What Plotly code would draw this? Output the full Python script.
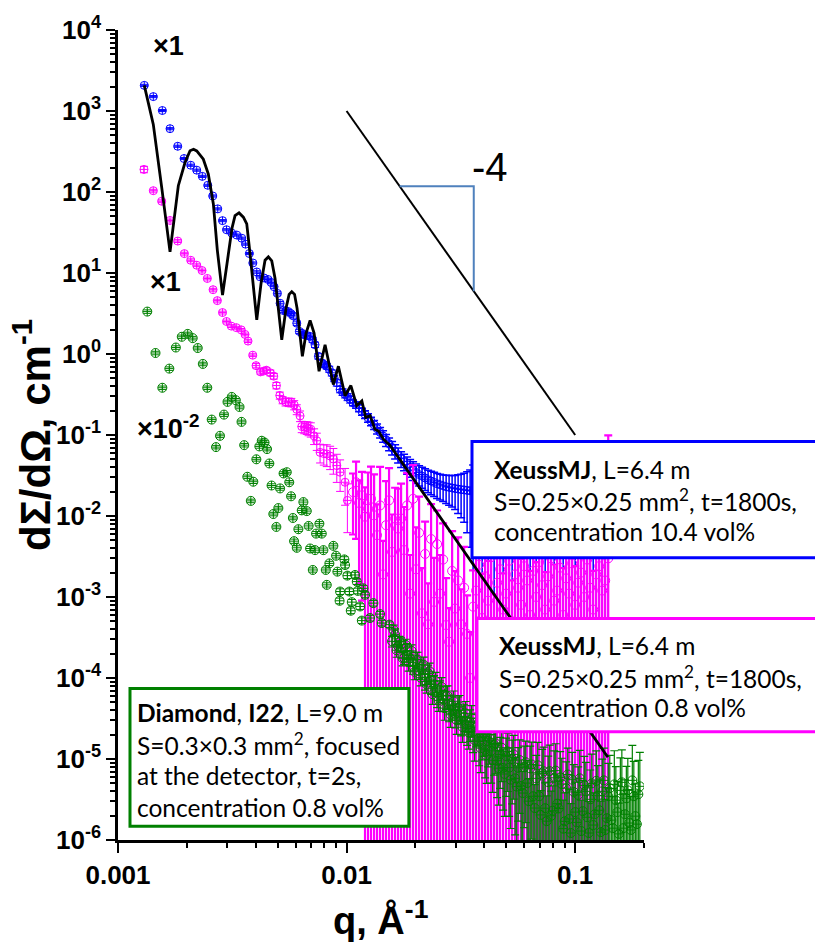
import math
import plotly.graph_objects as go

# ---------------- XeussMJ, 10.4 vol% (blue) ----------------
blue_q_lo = [0.001303, 0.001427, 0.001563, 0.001689, 0.001825, 0.001945, 0.002081, 0.002210, 0.002338, 0.002470,
             0.002597, 0.002731, 0.002866, 0.002984, 0.003145, 0.003307, 0.003477, 0.003614, 0.003755, 0.003890,
             0.004046, 0.004181, 0.004355, 0.004535, 0.004673, 0.004816, 0.004979, 0.005117, 0.005289, 0.005420,
             0.005563, 0.005710, 0.005850, 0.006054, 0.006214, 0.006380, 0.006516, 0.006720, 0.006924, 0.007100,
             0.007279, 0.007526, 0.007788, 0.007980, 0.008189, 0.008400, 0.008613, 0.008830, 0.009060, 0.009367,
             0.009600, 0.009849, 0.01010, 0.01036]
blue_I_lo = [2073, 1506, 1014, 605, 367, 259, 214, 186, 156, 121,
             89.3, 61.9, 44.3, 34.2, 31.1, 29.4, 26.9, 22.7, 17.4, 13.3,
             10.3, 8.98, 8.68, 8.32, 7.65, 6.77, 5.60, 4.23, 3.44, 3.40,
             3.34, 3.15, 2.95, 2.40, 1.90, 1.80, 1.725, 1.69, 1.649, 1.50,
             1.30, 0.937, 0.776, 0.740, 0.707, 0.650, 0.585, 0.500, 0.441, 0.365,
             0.340, 0.3167, 0.295, 0.275]
blue_relerr_lo = [0.03] * 20 + [0.035, 0.035, 0.04, 0.04, 0.04, 0.045, 0.045, 0.05, 0.05, 0.05,
                                0.055, 0.055, 0.06, 0.06, 0.06, 0.065, 0.065, 0.07, 0.07, 0.07,
                                0.075, 0.075, 0.08, 0.08, 0.08, 0.085, 0.085, 0.09, 0.09, 0.09,
                                0.095, 0.095, 0.1, 0.1]

# high-q detector grid shared by both XeussMJ samples
xeuss_q_hi = [0.01067, 0.01100, 0.01134, 0.01168, 0.01204, 0.01241, 0.01279, 0.01319, 0.01359, 0.01401,
              0.01444, 0.01488, 0.01534, 0.01581, 0.01630, 0.01680, 0.01731, 0.01784, 0.01839, 0.01896,
              0.01954, 0.02014, 0.02076, 0.02139, 0.02205, 0.02273, 0.02342, 0.02414, 0.02488, 0.02565,
              0.02644, 0.02725, 0.02808, 0.02895, 0.02983, 0.03075, 0.03169, 0.03267, 0.03367, 0.03470,
              0.03577, 0.03687, 0.03800, 0.03917, 0.04037, 0.04161, 0.04289, 0.04420, 0.04556, 0.04696,
              0.04840, 0.04989, 0.05142, 0.05300, 0.05462, 0.05630, 0.05803, 0.05981, 0.06165, 0.06354,
              0.06549, 0.06750, 0.06957, 0.07171, 0.07391, 0.07618, 0.07852, 0.08093, 0.08341, 0.08597,
              0.08861, 0.09133, 0.09414, 0.09703, 0.1000, 0.1031, 0.1062, 0.1095, 0.1129, 0.1163,
              0.1199, 0.1236, 0.1274, 0.1313, 0.1353, 0.1395]
blue_I_hi = [0.25, 0.235, 0.215, 0.195, 0.18, 0.163, 0.148, 0.134, 0.12, 0.108,
             0.097, 0.087, 0.078, 0.07, 0.063, 0.057, 0.051, 0.047, 0.043, 0.04,
             0.037, 0.0345, 0.0325, 0.031, 0.0295, 0.028, 0.027, 0.026, 0.025, 0.0243,
             0.0236, 0.023, 0.0226, 0.0222, 0.0218, 0.0215, 0.0212, 0.021, 0.0207, 0.0205,
             0.0203, 0.0198, 0.0206, 0.0201, 0.0195, 0.0204, 0.0199, 0.0193, 0.0202, 0.0197,
             0.0191, 0.0200, 0.0195, 0.0189, 0.0198, 0.0193, 0.0188, 0.0196, 0.0191, 0.0186,
             0.0194, 0.0189, 0.0184, 0.0192, 0.0187, 0.0182, 0.0190, 0.0185, 0.0180, 0.0188,
             0.0183, 0.0179, 0.0186, 0.0181, 0.0177, 0.0184, 0.0179, 0.0175, 0.0182, 0.0177,
             0.0173, 0.0180, 0.0175, 0.0171, 0.0178, 0.0174]
blue_relerr_hi = [0.08, 0.09, 0.1, 0.1, 0.11, 0.12, 0.12, 0.13, 0.14, 0.15,
                  0.16, 0.17, 0.18, 0.19, 0.2, 0.21, 0.22, 0.23, 0.24, 0.25,
                  0.26, 0.27, 0.28, 0.29, 0.3, 0.31, 0.32, 0.33, 0.34, 0.35,
                  0.36, 0.38, 0.4, 0.42, 0.45, 0.5, 0.55, 0.6, 0.7, 0.8,
                  1.1, 1.3, 1.2, 1.5, 1.4, 1.2, 1.6, 1.3, 1.5, 1.4,
                  1.7, 1.3, 1.5, 1.8, 1.4, 1.6, 1.9, 1.5, 1.7, 2.0,
                  1.6, 1.8, 2.1, 1.7, 1.9, 2.2, 1.8, 2.0, 2.3, 1.9,
                  2.1, 2.4, 2.0, 2.2, 2.5, 2.1, 2.3, 2.6, 2.2, 2.4,
                  2.7, 2.3, 2.5, 2.8, 2.4, 2.6]

# ---------------- XeussMJ, 0.8 vol% (magenta) ----------------
magenta_q_lo = [0.001299, 0.001427, 0.001553, 0.001689, 0.001825, 0.001951, 0.002081, 0.002210, 0.002331, 0.002459,
                0.002605, 0.002720, 0.002866, 0.002984, 0.003129, 0.003293, 0.003459, 0.003595, 0.003705, 0.003886,
                0.004017, 0.004203, 0.004330, 0.004457, 0.004639, 0.004801, 0.004934, 0.005101, 0.005250, 0.005408,
                0.005580, 0.005732, 0.005900, 0.006054, 0.006258, 0.006365, 0.006530, 0.006696, 0.006820, 0.006972,
                0.007208, 0.007406, 0.007656, 0.007950, 0.008189, 0.008470, 0.008752, 0.009060, 0.009367, 0.009849,
                0.01008]
magenta_I_lo = [190, 103.8, 76.9, 44.5, 24.8, 17.35, 14.36, 12.47, 10.73, 8.56,
                6.22, 4.56, 3.25, 2.52, 2.21, 2.115, 1.987, 1.744, 1.444, 0.967,
                0.718, 0.601, 0.615, 0.631, 0.585, 0.533, 0.408, 0.3078, 0.270, 0.2563,
                0.255, 0.2527, 0.235, 0.2073, 0.1720, 0.1272, 0.125, 0.1236, 0.121, 0.1178,
                0.0977, 0.0849, 0.0610, 0.0590, 0.0582, 0.0550, 0.0505, 0.0419, 0.0347, 0.0261,
                0.01558]
magenta_relerr_lo = [0.09] + [0.04] * 19 + [0.06, 0.06, 0.07, 0.07, 0.08, 0.08, 0.09, 0.1, 0.1, 0.11,
                                           0.12, 0.12, 0.13, 0.14, 0.15, 0.16, 0.17, 0.18, 0.19, 0.2,
                                           0.22, 0.24, 0.26, 0.28, 0.3, 0.32, 0.35, 0.38, 0.42, 0.48, 0.6]
magenta_I_hi = [0.0197, 0.0261, 0.0145, 0.0180, 0.0098, 0.0123, 0.0163, 0.0102, 0.0058, 0.0135,
                0.0019, 0.0077, 0.0156, 0.0036, 0.0093, 0.0070, 0.0093, 0.0038, 0.0135, 0.0011,
                0.0163, 0.0022, 0.0062, 0.00063, 0.0034, 0.00046, 0.0052, 0.00087, 0.0045, 0.0011,
                0.0029, 0.00045, 0.00028, 0.0021, 0.00072, 0.0016, 0.00046, 0.0013, 0.00035, 0.00010,
                0.00076, 0.0012, 0.0025, 0.00055, 0.0018, 0.0009, 0.0031, 0.0004, 0.0015, 0.0022,
                0.0007, 0.0011, 0.0028, 0.0005, 0.0019, 0.0013, 0.0008, 0.0024, 0.0016, 0.0006,
                0.0021, 0.0010, 0.0027, 0.0014, 0.0007, 0.0018, 0.0030, 0.0009, 0.0012, 0.0023,
                0.0006, 0.0017, 0.0011, 0.0026, 0.0008, 0.0015, 0.0020, 0.0010, 0.0029, 0.0013,
                0.0007, 0.0019, 0.0024, 0.0012, 0.0016, 0.0030]
magenta_relerr_hi = [0.7, 0.8, 0.9, 0.95,
                     1.3, 1.8, 1.5, 2.2, 1.4, 2.0, 1.6, 2.5, 1.5, 1.9,
                     1.4, 2.1, 1.7, 2.4, 1.5, 2.0, 1.6, 2.3, 1.8, 2.6,
                     1.5, 2.2, 1.7, 2.5, 1.6, 2.0, 1.8, 2.8, 1.6, 2.1,
                     1.9, 2.4, 1.7, 2.2, 2.0, 2.7, 1.8, 2.3, 1.6, 2.5,
                     1.9, 2.1, 2.6, 1.7, 2.4, 2.0, 1.8, 2.9, 1.6, 2.2,
                     2.3, 1.9, 2.7, 2.0, 1.8, 2.5, 2.1, 1.7, 2.4, 2.0,
                     1.9, 2.6, 2.2, 1.8, 2.3, 2.0, 2.8, 1.9, 2.1, 2.5,
                     2.0, 1.8, 2.4, 2.2, 1.9, 2.6, 2.0, 2.3, 1.8, 2.1,
                     2.4, 32]

# ---------------- Diamond I22, 0.8 vol%, x10^-2 (green) ----------------
diamond_q_lo = [0.001343, 0.001459, 0.001563, 0.001677, 0.001791, 0.001901, 0.002018, 0.002122, 0.002232, 0.002350,
                0.002458, 0.002570, 0.002684, 0.002794, 0.002909, 0.003013, 0.003145, 0.003276, 0.003401, 0.003470,
                0.003565, 0.003679, 0.003811, 0.003908, 0.004030, 0.004153, 0.004255, 0.004376, 0.004488, 0.004593,
                0.004696, 0.004781, 0.004929, 0.005029, 0.005117, 0.005300, 0.005474, 0.005613, 0.005716, 0.005821,
                0.005891, 0.006054, 0.006153, 0.006365, 0.006471, 0.006696, 0.006823, 0.006924, 0.007114, 0.007279,
                0.007353, 0.007603, 0.007788, 0.007916, 0.008110, 0.008189, 0.008408, 0.008752, 0.008995, 0.009113,
                0.009319, 0.009367, 0.009781, 0.009849, 0.01008, 0.01029, 0.01043, 0.01054, 0.01089, 0.01108,
                0.01119, 0.01146, 0.01166, 0.01184, 0.01205, 0.01267, 0.01310, 0.01402, 0.01426, 0.01539]
diamond_I_lo = [3.34, 1.029, 0.383, 0.660, 1.202, 1.631, 1.770, 1.571, 1.185, 0.754,
                0.383, 0.155, 0.0709, 0.0977, 0.1785, 0.2563, 0.2951, 0.2688, 0.2218, 0.1452,
                0.0749, 0.0305, 0.01537, 0.0265, 0.0501, 0.0723, 0.0849, 0.0809, 0.0670, 0.0445,
                0.0238, 0.01058, 0.00733, 0.01253, 0.0219, 0.0335, 0.0347, 0.0261, 0.0175, 0.00945,
                0.00489, 0.00405, 0.00687, 0.01174, 0.01485, 0.0115, 0.00754, 0.00397, 0.002157, 0.00379,
                0.00606, 0.00804, 0.00606, 0.00379, 0.002157, 0.001412, 0.0026, 0.00428, 0.00323, 0.002056,
                0.000898, 0.001168, 0.00291, 0.00248, 0.001836, 0.001168, 0.000677, 0.000864, 0.00187, 0.00155,
                0.00119, 0.000764, 0.000511, 0.00128, 0.001064, 0.00055, 0.00084, 0.000615, 0.000477, 0.000456]
diamond_relerr_lo = [0.05] * 40 + [0.06] * 20 + [0.08] * 20

# dense high-q part, two interleaved sets of detector bins
diamond_q_hi = [0.01581, 0.01630, 0.01680, 0.01731, 0.01785, 0.01839, 0.01896, 0.01954, 0.02014, 0.02076,
                0.02140, 0.02205, 0.02273, 0.02343, 0.02415, 0.02489, 0.02565, 0.02644, 0.02725, 0.02809,
                0.02895, 0.02984, 0.03076, 0.03170, 0.03267, 0.03368, 0.03471, 0.03578, 0.03688, 0.03801,
                0.03918, 0.04038, 0.04162, 0.04290, 0.04421, 0.04557, 0.04697, 0.04841, 0.04990, 0.05143,
                0.05301, 0.05464, 0.05632, 0.05805, 0.05983, 0.06167, 0.06356, 0.06551, 0.06753, 0.06960,
                0.07174, 0.07394, 0.07621, 0.07855, 0.08096, 0.08345, 0.08601, 0.08865, 0.09137, 0.09418,
                0.09707, 0.1001, 0.1031, 0.1063, 0.1096, 0.1129, 0.1164, 0.1200, 0.1237, 0.1275,
                0.1314, 0.1354, 0.1396, 0.1439, 0.1483, 0.1529, 0.1576, 0.1624, 0.1674, 0.1725,
                0.1778, 0.1833, 0.1889]
diamond_I_hi = [2.84e-4, 3.43e-4, 2.48e-4, 2.60e-4, 1.77e-4, 2.18e-4, 1.76e-4, 1.39e-4, 1.68e-4, 1.22e-4,
                1.27e-4, 9.06e-5, 1.14e-4, 8.35e-5, 8.39e-5, 5.90e-5, 7.08e-5, 5.42e-5, 6.00e-5, 4.12e-5,
                4.57e-5, 3.61e-5, 4.29e-5, 2.97e-5, 3.32e-5, 2.37e-5, 2.84e-5, 2.18e-5, 2.48e-5, 1.65e-5,
                1.88e-5, 1.30e-5, 1.67e-5, 1.26e-5, 1.50e-5, 9.53e-6, 1.14e-5, 7.78e-6, 1.08e-5, 7.82e-6,
                9.97e-6, 5.77e-6, 7.78e-6, 4.64e-6, 7.91e-6, 5.04e-6, 7.67e-6, 3.47e-6, 5.77e-6, 3.47e-6,
                6.64e-6, 2.47e-6, 5.18e-6, 1.99e-6, 5.86e-6, 2.81e-6, 5.93e-6, 1.38e-6, 4.35e-6, 1.82e-6,
                5.55e-6, 2.21e-6, 3.60e-6, 1.29e-6, 4.73e-6, 1.91e-6, 3.18e-6, 1.53e-6, 5.37e-6, 2.33e-6,
                3.99e-6, 1.33e-6, 3.47e-6, 1.76e-6, 4.86e-6, 2.21e-6, 4.10e-6, 1.40e-6, 3.27e-6, 1.62e-6,
                5.45e-6, 1.97e-6, 3.67e-6]
diamond_q_hi2 = [0.01605, 0.01655, 0.01706, 0.01757, 0.01812, 0.01867, 0.01925, 0.01984, 0.02045, 0.02108,
                 0.02173, 0.02239, 0.02308, 0.02379, 0.02452, 0.02527, 0.02604, 0.02684, 0.02766, 0.02852,
                 0.02939, 0.03029, 0.03123, 0.03218, 0.03317, 0.03419, 0.03524, 0.03632, 0.03744, 0.03859,
                 0.03978, 0.04099, 0.04225, 0.04355, 0.04488, 0.04626, 0.04768, 0.04915, 0.05066, 0.05221,
                 0.05382, 0.05547, 0.05718, 0.05893, 0.06074, 0.06261, 0.06453, 0.06651, 0.06856, 0.07066,
                 0.07283, 0.07506, 0.07737, 0.07974, 0.08219, 0.08472, 0.08732, 0.09000, 0.09276, 0.09561,
                 0.09855, 0.1016, 0.1047, 0.1079, 0.1113, 0.1146, 0.1182, 0.1218, 0.1256, 0.1294,
                 0.1334, 0.1375, 0.1417, 0.1461, 0.1506, 0.1552, 0.1600, 0.1649, 0.1699, 0.1751,
                 0.1805, 0.1861, 0.1918]
diamond_I_hi2 = [3.92e-4, 2.20e-4, 2.81e-4, 1.76e-4, 2.57e-4, 1.56e-4, 2.16e-4, 1.19e-4, 1.69e-4, 1.01e-4,
                 1.46e-4, 8.32e-5, 1.21e-4, 6.31e-5, 9.18e-5, 5.30e-5, 7.76e-5, 4.24e-5, 6.05e-5, 3.52e-5,
                 5.16e-5, 3.01e-5, 4.47e-5, 2.47e-5, 3.66e-5, 2.13e-5, 3.21e-5, 1.71e-5, 2.57e-5, 1.36e-5,
                 2.07e-5, 1.11e-5, 1.80e-5, 9.66e-6, 1.56e-5, 7.71e-6, 1.38e-5, 6.53e-6, 1.24e-5, 5.55e-6,
                 1.14e-5, 4.57e-6, 9.70e-6, 3.80e-6, 9.12e-6, 3.02e-6, 8.57e-6, 2.48e-6, 8.37e-6, 2.04e-6,
                 7.06e-6, 1.71e-6, 7.08e-6, 2.30e-6, 7.18e-6, 2.45e-6, 4.91e-6, 1.70e-6, 6.44e-6, 1.22e-6,
                 3.92e-6, 1.65e-6, 5.77e-6, 2.27e-6, 3.99e-6, 1.22e-6, 5.00e-6, 2.08e-6, 3.52e-6, 1.25e-6,
                 5.45e-6, 1.86e-6, 4.35e-6, 1.40e-6, 3.10e-6, 1.19e-6, 5.15e-6, 2.08e-6, 4.10e-6, 1.33e-6,
                 3.47e-6, 1.57e-6, 4.60e-6]
diamond_relerr_hi = [0.15, 0.18, 0.16, 0.2, 0.17, 0.22, 0.19, 0.2, 0.23, 0.21,
                     0.24, 0.22, 0.26, 0.25, 0.28, 0.27, 0.3, 0.29, 0.32, 0.3,
                     0.34, 0.33, 0.36, 0.35, 0.4, 0.38, 0.42, 0.45, 0.43, 0.5,
                     0.48, 0.55, 0.52, 0.6, 0.58, 0.65, 0.62, 0.7, 0.68, 0.75,
                     0.72, 0.8, 0.78, 0.85, 0.82, 0.9, 0.88, 0.95, 0.92, 1.0,
                     0.98, 1.05, 1.1, 1.02, 1.15, 1.2, 1.08, 1.25, 1.12, 1.3,
                     1.18, 1.35, 1.22, 1.4, 1.28, 1.45, 1.3, 1.5, 1.35, 1.42,
                     1.5, 1.38, 1.55, 1.45, 1.6, 1.4, 1.52, 1.65, 1.48, 1.58,
                     1.7, 1.5, 1.62]

# ---------------- model curve for the 10.4 vol% sample ----------------
model_q = [0.001303, 0.001427, 0.001553, 0.001689, 0.001836, 0.001964, 0.002066, 0.002140, 0.002210, 0.002362,
           0.002484, 0.002613, 0.002720, 0.002866, 0.002999, 0.003154, 0.003251, 0.003384, 0.003535, 0.003658,
           0.003781, 0.004046, 0.004224, 0.004398, 0.004548, 0.004706, 0.004865, 0.005204, 0.005434, 0.005604,
           0.005756, 0.005921, 0.006072, 0.006406, 0.006650, 0.006924, 0.007208, 0.007579, 0.008051, 0.008752,
           0.009207, 0.009849, 0.01044, 0.01108, 0.01166, 0.01213, 0.01267, 0.01332, 0.01378, 0.01449,
           0.01549, 0.0509, 0.139]
model_I = [2073, 683, 114.2, 18.2, 119.5, 231, 323, 337, 321, 254,
           166, 71.3, 19.05, 5.34, 13.1, 36.0, 51.2, 55.2, 48.9, 40.5,
           17.35, 2.64, 7.43, 14.36, 15.8, 14.11, 8.56, 1.498, 3.67, 5.45,
           5.88, 5.45, 3.67, 0.937, 1.81, 2.59, 1.81, 0.613, 1.30, 0.420,
           0.7066, 0.3053, 0.408, 0.230, 0.263, 0.164, 0.1735, 0.1168, 0.1126, 0.0888,
           0.0743, 6.1e-4, 1.05e-5]

# q^-4 guide line and its slope triangle
porod_q = [0.01, 0.1]
porod_I = [1000, 0.1]
triangle_q = [0.01706, 0.036, 0.036]
triangle_I = [118, 118, 5.95]

# ---------------- axis ticks ----------------
x_tick_vals = [0.001, 0.01, 0.1]
x_tick_text = ["0.001", "0.01", "0.1"]
y_tick_vals = [1e-6, 1e-5, 1e-4, 1e-3, 1e-2, 1e-1, 1e0, 1e1, 1e2, 1e3, 1e4]
y_tick_text = ["10<sup>-6</sup>", "10<sup>-5</sup>", "10<sup>-4</sup>", "10<sup>-3</sup>", "10<sup>-2</sup>",
               "10<sup>-1</sup>", "10<sup>0</sup>", "10<sup>1</sup>", "10<sup>2</sup>", "10<sup>3</sup>",
               "10<sup>4</sup>"]
x_minor = [k * 10.0 ** e for e in (-3, -2, -1) for k in range(2, 10) if k * 10.0 ** e <= 0.2001]
y_minor = [k * 10.0 ** e for e in range(-6, 4) for k in range(2, 10)]

BLUE = "#0000FF"
MAGENTA = "#FF00FF"
GREEN = "#008000"
TRI_BLUE = "#4F81BD"
TICK_FONT = dict(family="Liberation Sans", size=26, color="black", weight="bold")
BOX_FONT = dict(family="Lato", size=24.5, color="black")

fig = go.Figure()


def add_points(q, intensity, relerr, color, symbol, size, bar_width=1.0):
    fig.add_trace(go.Scatter(
        x=q, y=intensity, mode="markers",
        marker=dict(symbol=symbol, size=size, color=color, line=dict(color=color, width=1)),
        error_y=dict(type="data", array=[v * r for v, r in zip(intensity, relerr)],
                     color=color, thickness=bar_width, width=4),
        showlegend=False, hoverinfo="skip"))


add_points(blue_q_lo, blue_I_lo, blue_relerr_lo, BLUE, "circle-cross-open", 8)
add_points(xeuss_q_hi, blue_I_hi, blue_relerr_hi, BLUE, "circle-cross-open", 8, 1.5)
add_points(magenta_q_lo, magenta_I_lo, magenta_relerr_lo, MAGENTA, "circle-cross-open", 8)
add_points(xeuss_q_hi, magenta_I_hi, magenta_relerr_hi, MAGENTA, "circle-open", 9, 2.2)
add_points(diamond_q_lo, diamond_I_lo, diamond_relerr_lo, GREEN, "circle-cross-open", 9)
add_points(diamond_q_hi, diamond_I_hi, diamond_relerr_hi, GREEN, "circle-cross-open", 9, 1.2)
add_points(diamond_q_hi2, diamond_I_hi2, diamond_relerr_hi, GREEN, "circle-cross-open", 9, 1.2)

fig.add_trace(go.Scatter(x=model_q, y=model_I, mode="lines",
                         line=dict(color="black", width=2.8), showlegend=False, hoverinfo="skip"))
fig.add_trace(go.Scatter(x=porod_q, y=porod_I, mode="lines",
                         line=dict(color="black", width=2), showlegend=False, hoverinfo="skip"))
fig.add_trace(go.Scatter(x=triangle_q, y=triangle_I, mode="lines",
                         line=dict(color=TRI_BLUE, width=2), showlegend=False, hoverinfo="skip"))

# framed sample descriptions (paper coordinates, running past the right edge)
boxes = [
    (0.673, 1.4, 0.3485, 0.4920, BLUE),
    (0.6825, 1.4, 0.1337, 0.2736, MAGENTA),
    (0.0228, 0.5530, 0.0170, 0.1870, GREEN),
]
for x0, x1, y0, y1, color in boxes:
    fig.add_shape(type="rect", xref="paper", yref="paper", x0=x0, x1=x1, y0=y0, y1=y1,
                  line=dict(color=color, width=3), fillcolor="white", layer="above")

box_lines = [
    (0.7110, 0.4577, "<b>XeussMJ</b>, L=6.4 m"),
    (0.7110, 0.4196, "S=0.25×0.25 mm<sup>2</sup>, t=1800s,"),
    (0.7110, 0.3804, "concentration 10.4 vol%"),
    (0.7205, 0.2405, "<b>XeussMJ</b>, L=6.4 m"),
    (0.7205, 0.2012, "S=0.25×0.25 mm<sup>2</sup>, t=1800s,"),
    (0.7205, 0.1632, "concentration 0.8 vol%"),
    (0.0323, 0.1571, "<b>Diamond</b>, <b>I22</b>, L=9.0 m"),
    (0.0323, 0.1190, "S=0.3×0.3 mm<sup>2</sup>, focused"),
    (0.0323, 0.0798, "at the detector, t=2s,"),
    (0.0323, 0.0405, "concentration 0.8 vol%"),
]
for x, y, text in box_lines:
    fig.add_annotation(x=x, y=y, xref="paper", yref="paper", text=text, showarrow=False,
                       xanchor="left", yanchor="middle", align="left", font=BOX_FONT)

# scale factors of the curves and the slope label
labels = [
    (0.0951, 0.9804, "×1", 27, "bold"),
    (0.0894, 0.6883, "×1", 27, "bold"),
    (0.0951, 0.5104, "×10<sup>-2</sup>", 27, "bold"),
    (0.7072, 0.8307, "-4", 40, "normal"),
]
for x, y, text, size, weight in labels:
    fig.add_annotation(x=x, y=y, xref="paper", yref="paper", text=text, showarrow=False,
                       xanchor="center", yanchor="middle",
                       font=dict(family="Liberation Sans", size=size, color="black", weight=weight))

# axis titles
fig.add_annotation(x=-0.1635, y=0.5, xref="paper", yref="paper", text="dΣ/dΩ, cm<sup>-1</sup>",
                   textangle=-90, showarrow=False, xanchor="center", yanchor="middle",
                   font=dict(family="Liberation Sans", size=42, color="black", weight="bold"))
fig.add_annotation(x=0.5, y=-0.0957, xref="paper", yref="paper", text="q, Å<sup>-1</sup>",
                   showarrow=False, xanchor="center", yanchor="middle",
                   font=dict(family="Liberation Sans", size=38, color="black", weight="bold"))

axis_common = dict(
    showline=True, linecolor="black", linewidth=2.5, mirror=False,
    ticks="outside", tickwidth=2, tickcolor="black", tickmode="array",
    tickfont=TICK_FONT, showgrid=False, zeroline=False,
)
fig.update_layout(
    width=815, height=942, autosize=False,
    margin=dict(l=118, r=171, t=25, b=102, pad=0),
    paper_bgcolor="white", plot_bgcolor="white",
    xaxis=dict(type="log", range=[-3, math.log10(0.2)], ticklen=10,
               tickvals=x_tick_vals, ticktext=x_tick_text,
               minor=dict(ticks="outside", ticklen=5, tickwidth=1.5, tickcolor="black",
                          tickmode="array", tickvals=x_minor, showgrid=False),
               **axis_common),
    yaxis=dict(type="log", range=[-6, 4], ticklen=9,
               tickvals=y_tick_vals, ticktext=y_tick_text,
               minor=dict(ticks="outside", ticklen=5, tickwidth=1.5, tickcolor="black",
                          tickmode="array", tickvals=y_minor, showgrid=False),
               **axis_common),
)

fig.write_html("out.html")
